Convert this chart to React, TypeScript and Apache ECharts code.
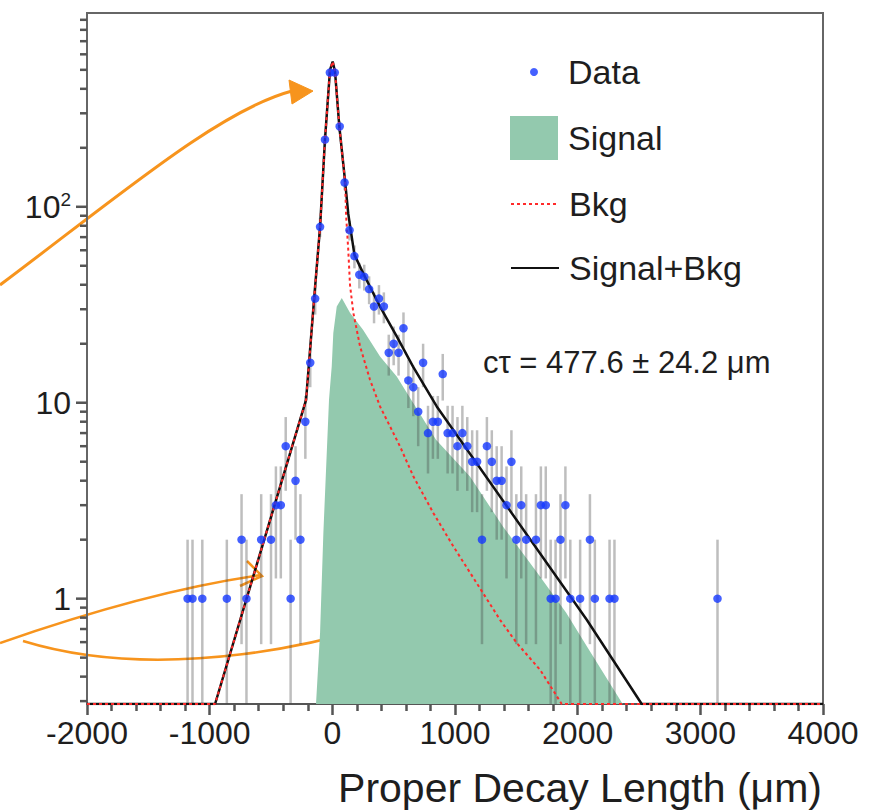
import React, { useEffect, useRef } from 'react';
import * as echarts from 'echarts';

const FONT = 'Liberation Sans, Arial, Helvetica, sans-serif';
const X_MIN = -2000;
const X_MAX = 4000;
const Y_MIN = 0.29;
const Y_MAX = 975;

// Data (bin centre in um, counts per bin)
const dataX = [
  -1180, -1140, -1060, -860, -740, -700, -580, -500, -460, -420, -380, -340, -300, -260, -220, -180, -140, -100, -60, -20,
  20, 60, 100, 140, 180, 220, 260, 300, 340, 380, 420, 460, 500, 540, 580, 620, 660, 700, 740, 780,
  820, 860, 900, 940, 980, 1020, 1060, 1100, 1140, 1180, 1220, 1260, 1300, 1340, 1380, 1420, 1460, 1500, 1540, 1580,
  1660, 1700, 1740, 1780, 1820, 1860, 1900, 1940, 2020, 2100, 2140, 2260, 2300, 3140,
];
const dataY = [
  1, 1, 1, 1, 2, 1, 2, 2, 3, 3, 6, 1, 4, 2, 8, 16, 34, 79, 220, 484,
  484, 257, 133, 76, 56, 45, 44, 38, 31, 34, 31, 18, 20, 18, 24, 13, 12, 9, 16, 7,
  8, 8, 14, 7, 7, 6, 7, 6, 5, 5, 2, 6, 5, 4, 4, 3, 5, 2, 3, 2,
  2, 3, 3, 1, 1, 2, 3, 1, 1, 2, 1, 1, 1, 1,
];

// Signal + Bkg fit curve
const sumX = [-2000, -956, -214, -149, -100, -60, -19, 3, 22, 57, 104, 130, 180, 250, 389, 525, 658, 851, 2074, 2522, 4000];
const sumY = [0.29, 0.29, 10.35, 33.6, 79, 220, 500, 551, 488, 257, 134.7, 92, 57, 46, 30.9, 21.8, 15.3, 9.57, 0.78, 0.29, 0.29];

// Bkg curve
const bkgX = [-2000, -956, -214, -149, -100, -60, -19, 3, 22, 57, 104, 112, 130, 144, 171, 226, 307, 389, 552, 660, 823, 986, 1177, 1367, 1503, 1693, 1870, 4000];
const bkgY = [0.29, 0.29, 10.35, 33.6, 79, 220, 500, 551, 488, 257, 134.7, 91, 60, 40, 28.8, 19.4, 13.1, 9.57, 5.98, 4.21, 2.74, 1.85, 1.2, 0.78, 0.594, 0.434, 0.29, 0.29];

// Signal curve
const sigX = [-133, -100, -73, -27, -5, 8, 36, 77, 144, 250, 389, 525, 658, 845, 1122, 1392, 1669, 1905, 2101, 2367];
const sigY = [0.29, 0.67, 2.17, 10.4, 15.3, 22.7, 31, 34.2, 28.8, 23.6, 17.2, 13.6, 10, 6.47, 4.2, 2.33, 1.36, 0.85, 0.537, 0.29];

// Y axis tick values (log axis)
const yMajorTicks = [1, 10, 100];
const yMinorTicks = [0.3, 0.4, 0.5, 0.6, 0.7, 0.8, 0.9, 2, 3, 4, 5, 6, 7, 8, 9, 20, 30, 40, 50, 60, 70, 80, 90, 200, 300, 400, 500, 600, 700, 800, 900];

const zip = (xs: number[], ys: number[]) => xs.map((x, i) => [x, ys[i]]);

const ORANGE = '#f7941d';
const AXIS_COLOR = '#555';
const TEXT_COLOR = '#1e1e1e';

export default function App() {
  const ref = useRef<HTMLDivElement>(null);

  useEffect(() => {
    const chart = echarts.init(ref.current as HTMLDivElement, null, { renderer: 'svg' });

    const tickRender = (len: number) => (params: any, api: any) => {
      const p = api.coord([api.value(0), api.value(1)]);
      return {
        type: 'line',
        shape: { x1: p[0] - len, y1: p[1], x2: p[0], y2: p[1] },
        style: { stroke: AXIS_COLOR, lineWidth: 2.5 },
      };
    };

    const legendText = { fontSize: 34, color: TEXT_COLOR, fontFamily: FONT, padding: [0, 0, 0, 5] };

    const option: any = {
      animation: false,
      backgroundColor: '#fff',
      grid: {
        left: 87,
        top: 13,
        right: 60,
        bottom: 107,
        show: true,
        borderColor: '#666',
        borderWidth: 2,
      },
      xAxis: {
        type: 'value',
        min: X_MIN,
        max: X_MAX,
        interval: 1000,
        axisLine: { show: true, onZero: false, lineStyle: { color: '#555', width: 2 } },
        axisTick: { show: true, inside: false, length: 11, lineStyle: { color: AXIS_COLOR, width: 2.5 } },
        minorTick: { show: true, splitNumber: 5, length: 7, lineStyle: { color: AXIS_COLOR, width: 2.5 } },
        splitLine: { show: false },
        minorSplitLine: { show: false },
        axisLabel: {
          fontSize: 32, color: TEXT_COLOR, fontFamily: FONT, margin: 13,
          formatter: (v: number) => String(v),
        },
      },
      yAxis: {
        type: 'log',
        logBase: 10,
        min: Y_MIN,
        max: Y_MAX,
        axisLine: { show: true, onZero: false, lineStyle: { color: '#666', width: 2 } },
        axisTick: { show: false },
        splitLine: { show: false },
        axisLabel: {
          margin: 16,
          showMinLabel: false,
          showMaxLabel: false,
          formatter: (v: number) => {
            const l = Math.log10(v);
            const r = Math.round(l);
            if (Math.abs(l - r) > 1e-6) return '';
            if (r === 2) return '{b|10}{s|2}';
            if (r === 1) return '{b|10}';
            if (r === 0) return '{b|1}';
            return '';
          },
          rich: {
            b: { fontSize: 32, color: TEXT_COLOR, fontFamily: FONT },
            s: { fontSize: 19, color: TEXT_COLOR, fontFamily: FONT, padding: [0, 0, 14, 0] },
          },
        },
      },
      legend: [
        {
          data: [{ name: 'Data', icon: 'circle' }], left: 530, top: 55, padding: 0, itemWidth: 48, itemHeight: 8,
          selectedMode: false, textStyle: legendText,
        },
        {
          data: [{ name: 'Signal', icon: 'rect' }], left: 510, top: 116, padding: 0, itemWidth: 48, itemHeight: 44,
          selectedMode: false, textStyle: legendText,
        },
        {
          data: ['Bkg'], left: 510, top: 187, padding: 0, itemWidth: 48, itemHeight: 14,
          selectedMode: false, textStyle: legendText,
          itemStyle: { opacity: 0, borderWidth: 0 },
        },
        {
          data: ['Signal+Bkg'], left: 510, top: 251, padding: 0, itemWidth: 48, itemHeight: 14,
          selectedMode: false, textStyle: legendText,
          itemStyle: { opacity: 0, borderWidth: 0 },
        },
      ],
      series: [
        {
          name: 'Signal',
          type: 'line',
          data: zip(sigX, sigY),
          symbol: 'none',
          color: '#93c9ae',
          itemStyle: { color: '#93c9ae' },
          lineStyle: { width: 0, color: '#93c9ae' },
          areaStyle: { color: '#93c9ae', opacity: 1, origin: 'start' },
          z: 1,
        },
        {
          name: 'errors',
          type: 'custom',
          data: zip(dataX, dataY),
          clip: false,
          z: 2,
          renderItem: (params: any, api: any) => {
            const x = api.value(0);
            const y = api.value(1);
            const e = Math.sqrt(y);
            const top = api.coord([x, Math.min(y + e, Y_MAX)]);
            const bot = api.coord([x, Math.max(y - e, Y_MIN)]);
            return {
              type: 'line',
              shape: { x1: top[0], y1: top[1], x2: bot[0], y2: bot[1] },
              style: { stroke: 'rgba(70,70,70,0.35)', lineWidth: 2.5 },
            };
          },
        },
        {
          name: 'Signal+Bkg',
          type: 'line',
          data: zip(sumX, sumY),
          symbol: 'none',
          color: '#111',
          lineStyle: { color: '#111', width: 2.5 },
          z: 3,
        },
        {
          name: 'Bkg',
          type: 'line',
          data: zip(bkgX, bkgY),
          symbol: 'none',
          color: '#ff2a2a',
          lineStyle: { color: '#ff2a2a', width: 2, type: [3, 3] },
          z: 4,
        },
        {
          name: 'Data',
          type: 'scatter',
          data: zip(dataX, dataY),
          symbol: 'circle',
          symbolSize: 8.5,
          color: '#1538ff',
          itemStyle: { color: '#1538ff' },
          z: 5,
        },
        {
          name: 'yMajorTicks',
          type: 'custom',
          data: yMajorTicks.map((v) => [X_MIN, v]),
          clip: false,
          renderItem: tickRender(11),
          z: 6,
        },
        {
          name: 'yMinorTicks',
          type: 'custom',
          data: yMinorTicks.map((v) => [X_MIN, v]),
          clip: false,
          renderItem: tickRender(7),
          z: 6,
        },
      ],
      graphic: [
        {
          type: 'text', x: 483, y: 362,
          style: { text: 'cτ = 477.6 ± 24.2 μm', fill: TEXT_COLOR, fontSize: 31, fontFamily: FONT, align: 'left', verticalAlign: 'middle' },
        },
        {
          type: 'text', x: 822, y: 788,
          style: { text: 'Proper Decay Length (μm)', fill: TEXT_COLOR, fontSize: 41, fontFamily: FONT, align: 'right', verticalAlign: 'middle' },
        },
        {
          type: 'bezierCurve',
          shape: { x1: 0, y1: 285, cpx1: 120, cpy1: 195, cpx2: 220, cpy2: 110, x2: 292, y2: 91 },
          style: { stroke: ORANGE, lineWidth: 3, fill: null },
        },
        {
          type: 'polygon',
          shape: { points: [[289, 80], [313, 91], [292, 104]] },
          style: { fill: ORANGE, stroke: ORANGE, lineWidth: 1 },
        },
        {
          type: 'bezierCurve',
          shape: { x1: 0, y1: 643, cpx1: 80, cpy1: 615, cpx2: 170, cpy2: 588, x2: 261, y2: 575 },
          style: { stroke: ORANGE, lineWidth: 2.5, fill: null },
        },
        {
          type: 'polyline',
          shape: { points: [[247, 561], [262, 576], [240, 586]] },
          style: { stroke: ORANGE, lineWidth: 2.5, fill: null },
        },
        {
          type: 'bezierCurve',
          shape: { x1: 23, y1: 641, cpx1: 150, cpy1: 680, cpx2: 330, cpy2: 655, x2: 472, y2: 588 },
          style: { stroke: ORANGE, lineWidth: 2.5, fill: null },
        },
        {
          type: 'polyline',
          shape: { points: [[452, 582], [473, 588], [461, 606]] },
          style: { stroke: ORANGE, lineWidth: 2.5, fill: null },
        },
      ],
    };

    chart.setOption(option);
    return () => chart.dispose();
  }, []);

  return <div ref={ref} style={{ position: 'absolute', left: 0, top: 0, width: 883, height: 811 }} />;
}
